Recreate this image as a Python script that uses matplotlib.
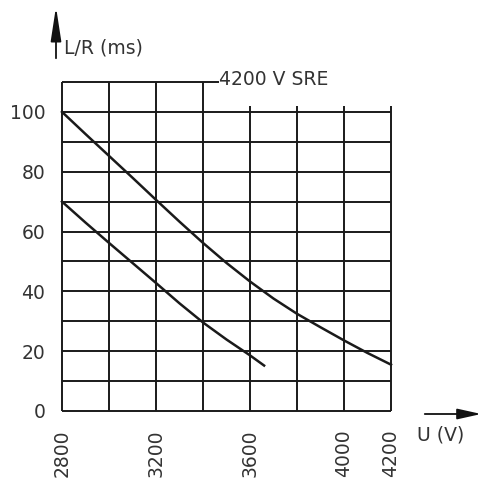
import matplotlib.pyplot as plt
from matplotlib.patches import FancyArrowPatch

# точки кривых (шаг 100 В)
U_UPPER = [2800, 2900, 3000, 3100, 3200, 3300, 3400, 3500, 3600, 3700, 3800, 3900, 4000, 4100, 4200]
LR_UPPER = [100, 92.6, 85.3, 78, 70.6, 63.3, 56.2, 49.5, 43.3, 37.6, 32.5, 28, 23.6, 19.4, 15.5]
U_LOWER = [2800, 2900, 3000, 3100, 3200, 3300, 3400, 3500, 3600, 3660]
LR_LOWER = [70, 63, 56.2, 49.5, 42.8, 36, 29.6, 23.9, 18.6, 15.2]

X_TICKS = [2800, 3200, 3600, 4000, 4200]
Y_TICKS = [0, 20, 40, 60, 80, 100]
X_GRID = [2800, 3000, 3200, 3400, 3600, 3800, 4000, 4200]
Y_GRID = [0, 10, 20, 30, 40, 50, 60, 70, 80, 90, 100]
SRE_LEVEL = 110
SRE_LABEL = "4200 V SRE"

GRID_COLOR = "#1a1a1a"
TEXT_COLOR = "#333333"
FONT = "DejaVu Sans"
FS = 13.5


def main() -> None:
    fig = plt.figure(figsize=(4.86, 4.84), dpi=100)
    ax = fig.add_axes([62 / 486, 1 - 411 / 484, 329 / 486, 329 / 484])
    ax.set_xlim(2800, 4200)
    ax.set_ylim(0, 110)
    for spine in ax.spines.values():
        spine.set_visible(False)

    # сетка вручную: верхняя линия 110 только до отметки SRE
    ax.hlines(Y_GRID, 2800, 4200, color=GRID_COLOR, linewidth=1.4, clip_on=False)
    ax.hlines(SRE_LEVEL, 2800, 3470, color=GRID_COLOR, linewidth=1.4, clip_on=False)
    for x in X_GRID:
        top = SRE_LEVEL if x <= 3400 else 102
        ax.vlines(x, 0, top, color=GRID_COLOR, linewidth=1.4, clip_on=False)

    ax.plot(U_UPPER, LR_UPPER, color=GRID_COLOR, linewidth=1.8, clip_on=False)
    ax.plot(U_LOWER, LR_LOWER, color=GRID_COLOR, linewidth=1.8, clip_on=False)

    ax.text(3470, SRE_LEVEL + 1, SRE_LABEL, ha="left", va="center",
            fontsize=FS, color=TEXT_COLOR, family=FONT)

    ax.set_xticks(X_TICKS)
    ax.set_xticklabels([str(v) for v in X_TICKS], rotation=90,
                       fontsize=FS, color=TEXT_COLOR, family=FONT)
    ax.set_yticks(Y_TICKS)
    ax.set_yticklabels([str(v) for v in Y_TICKS],
                       fontsize=FS, color=TEXT_COLOR, family=FONT)
    ax.tick_params(axis="y", length=0, pad=12)
    ax.tick_params(axis="x", length=0, pad=13)

    # стрелки осей
    fig.patches.append(FancyArrowPatch(
        (56 / 486, 1 - 61 / 484), (56 / 486, 1 - 4 / 484),
        transform=fig.transFigure, arrowstyle="-|>,head_length=1.3,head_width=0.2",
        mutation_scale=16, color="#111111", linewidth=1.3))
    fig.patches.append(FancyArrowPatch(
        (422 / 486, 1 - 414 / 484), (484 / 486, 1 - 414 / 484),
        transform=fig.transFigure, arrowstyle="-|>,head_length=0.9,head_width=0.2",
        mutation_scale=16, color="#111111", linewidth=1.3))

    fig.text(64 / 486, 1 - 48 / 484, "L/R (ms)", ha="left", va="center",
             fontsize=FS, color=TEXT_COLOR, family=FONT)
    fig.text(417 / 486, 1 - 435 / 484, "U (V)", ha="left", va="center",
             fontsize=FS, color=TEXT_COLOR, family=FONT)

    fig.savefig("out.png", dpi=100)
    plt.close(fig)


if __name__ == "__main__":
    main()
